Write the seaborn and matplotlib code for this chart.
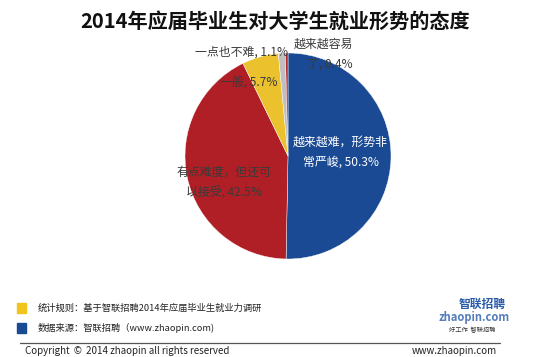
import matplotlib
matplotlib.use('Agg')
import matplotlib.pyplot as plt
from matplotlib.patches import Rectangle
from matplotlib.lines import Line2D
import seaborn as sns

# data
labels = ['越来越难，形势非\n常严峻', '有点难度，但还可\n以接受', '一般', '一点也不难', '越来越容易\n了']
values = [50.3, 42.5, 5.7, 1.1, 0.4]
colors = ['#1a4a93', '#b01f25', '#ecc12e', '#bfbfbf', '#b3272d']
# label positions in pie coords (radius = 1)
label_pos = [(0.51, 0.04), (-0.62, -0.26), (-0.38, 0.72), (-0.45, 1.01), (0.34, 0.99)]
label_col = ['white', '#3a3a3a', '#3a3a3a', '#3a3a3a', '#3a3a3a']
label_align = ['center', 'center', 'center', 'center', 'right']

title = '2014年应届毕业生对大学生就业形势的态度'
note1 = '统计规则：基于智联招聘2014年应届毕业生就业力调研'
note2 = '数据来源：智联招聘（www.zhaopin.com)'

sns.set_theme(style='white')
plt.rcParams['font.family'] = ['Noto Sans CJK SC', 'DejaVu Sans']

W, H = 550, 357
fig = plt.figure(figsize=(W / 100, H / 100), dpi=100)
fig.patch.set_facecolor('white')

# pie axes: center (288,156) px, radius 103 px
cx, cy, r = 288, 156, 103
ax = fig.add_axes([(cx - r) / W, (H - cy - r) / H, 2 * r / W, 2 * r / H])
ax.pie(values, colors=colors, startangle=90, counterclock=False, radius=1,
       wedgeprops=dict(edgecolor='white', linewidth=0.3))
ax.set_xlim(-1, 1)
ax.set_ylim(-1, 1)
ax.set_aspect('equal')
ax.axis('off')

for lab, v, (x, y), c, al in zip(labels, values, label_pos, label_col, label_align):
    ax.text(x, y, '%s, %.1f%%' % (lab, v), ha='center', va='center', color=c,
            multialignment=al, fontsize=8.6, linespacing=1.75, clip_on=False, zorder=5)

def px(x, y):
    return x / W, 1 - y / H

fig.text(*px(275, 21), title, ha='center', va='center', fontsize=14.5,
         fontweight='bold', color='#111111')

# footer
fig.patches.append(Rectangle(px(17, 313), 9 / W, 10 / H, transform=fig.transFigure,
                             color='#f0c41a', figure=fig))
fig.patches.append(Rectangle(px(17, 333), 9 / W, 10 / H, transform=fig.transFigure,
                             color='#1a4a93', figure=fig))
fig.text(*px(38, 308), note1, ha='left', va='center', fontsize=6.7, color='#222222')
fig.text(*px(38, 328), note2, ha='left', va='center', fontsize=6.7, color='#222222')

fig.lines.append(Line2D([20 / W, 500 / W], [1 - 343 / H, 1 - 343 / H],
                        transform=fig.transFigure, color='#555555', linewidth=0.9))
fig.text(*px(25, 351), 'Copyright  ©  2014 zhaopin all rights reserved', ha='left',
         va='center', fontsize=7, color='#222222')
fig.text(*px(497, 351), 'www.zhaopin.com', ha='right', va='center', fontsize=7,
         color='#222222')

# logo (approximation)
fig.text(*px(482, 304), '智联招聘', ha='center', va='center', fontsize=8.5,
         fontweight='bold', color='#2a5caa')
fig.text(*px(474, 318), 'zhaopin.com', ha='center', va='center', fontsize=8,
         fontweight='bold', color='#2a5caa', alpha=0.8)
fig.text(*px(472, 330), '好工作  智联招聘', ha='center', va='center', fontsize=4.5,
         color='#333333')

fig.savefig('out.png', dpi=100)
